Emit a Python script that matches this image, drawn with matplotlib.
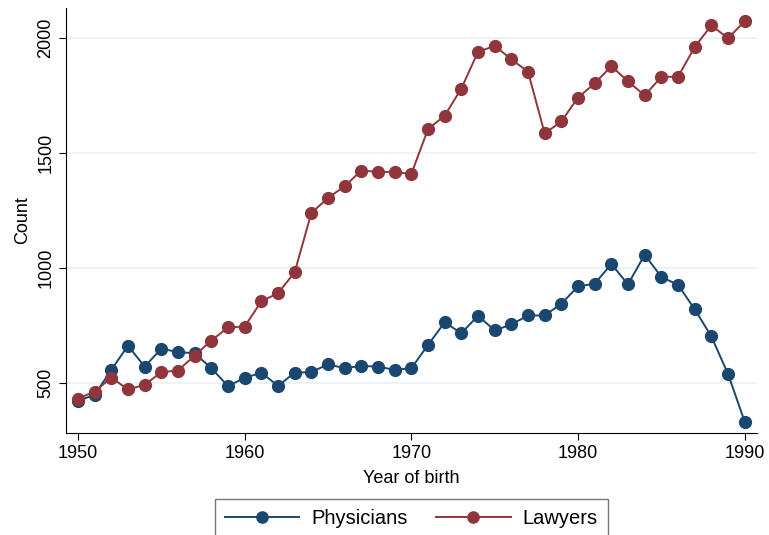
import numpy as np
import matplotlib.pyplot as plt

plt.rcParams['font.family'] = ['Liberation Sans', 'DejaVu Sans']

years = list(range(1950, 1991))
physicians = [424, 449, 558, 663, 572, 650, 635, 630, 565, 488,
              523, 546, 488, 546, 548, 582, 565, 575, 572, 558,
              565, 666, 764, 717, 793, 729, 755, 794, 794, 845,
              920, 932, 1017, 929, 1058, 961, 927, 821, 703, 540,
              333]
lawyers = [433, 464, 524, 473, 493, 548, 555, 620, 685, 742,
           746, 855, 891, 981, 1239, 1304, 1355, 1423, 1417, 1417,
           1408, 1603, 1661, 1779, 1938, 1964, 1906, 1852, 1584, 1636,
           1740, 1801, 1876, 1810, 1749, 1830, 1830, 1959, 2053, 1997,
           2071]
x_ticks = [1950, 1960, 1970, 1980, 1990]
y_ticks = [500, 1000, 1500, 2000]

blue = '#1a476f'
red = '#90353b'

fig = plt.figure(figsize=(7.69, 5.35), dpi=100)
ax = fig.add_axes([0.0858, 0.1907, 0.8982, 0.795])

ax.plot(years, physicians, color=blue, marker='o', markersize=8.5, lw=1.4, label='Physicians')
ax.plot(years, lawyers, color=red, marker='o', markersize=8.5, lw=1.4, label='Lawyers')

ax.set_xlim(1949.28, 1990.72)
ax.set_ylim(284, 2130)
ax.set_xticks(x_ticks)
ax.set_yticks(y_ticks)
ax.set_yticklabels([str(v) for v in y_ticks], rotation=90, va='center')
ax.tick_params(labelsize=13, length=5, direction='out')
ax.grid(axis='y', color='#eaf0f3', lw=1.2)
ax.set_axisbelow(True)
for s in ['top', 'right']:
    ax.spines[s].set_visible(False)

ax.set_xlabel('Year of birth', fontsize=13, labelpad=6)
ax.set_ylabel('Count', fontsize=13, labelpad=4)

leg = ax.legend(loc='upper center', bbox_to_anchor=(0.5, -0.155), borderaxespad=0,
                ncol=2, fontsize=14.5, frameon=True, fancybox=False, edgecolor='#555555',
                handlelength=3.7, columnspacing=1.4, borderpad=0.5, handletextpad=0.6,
                markerscale=0.95)
leg.get_frame().set_linewidth(1.0)

fig.savefig('out.png', dpi=100)
